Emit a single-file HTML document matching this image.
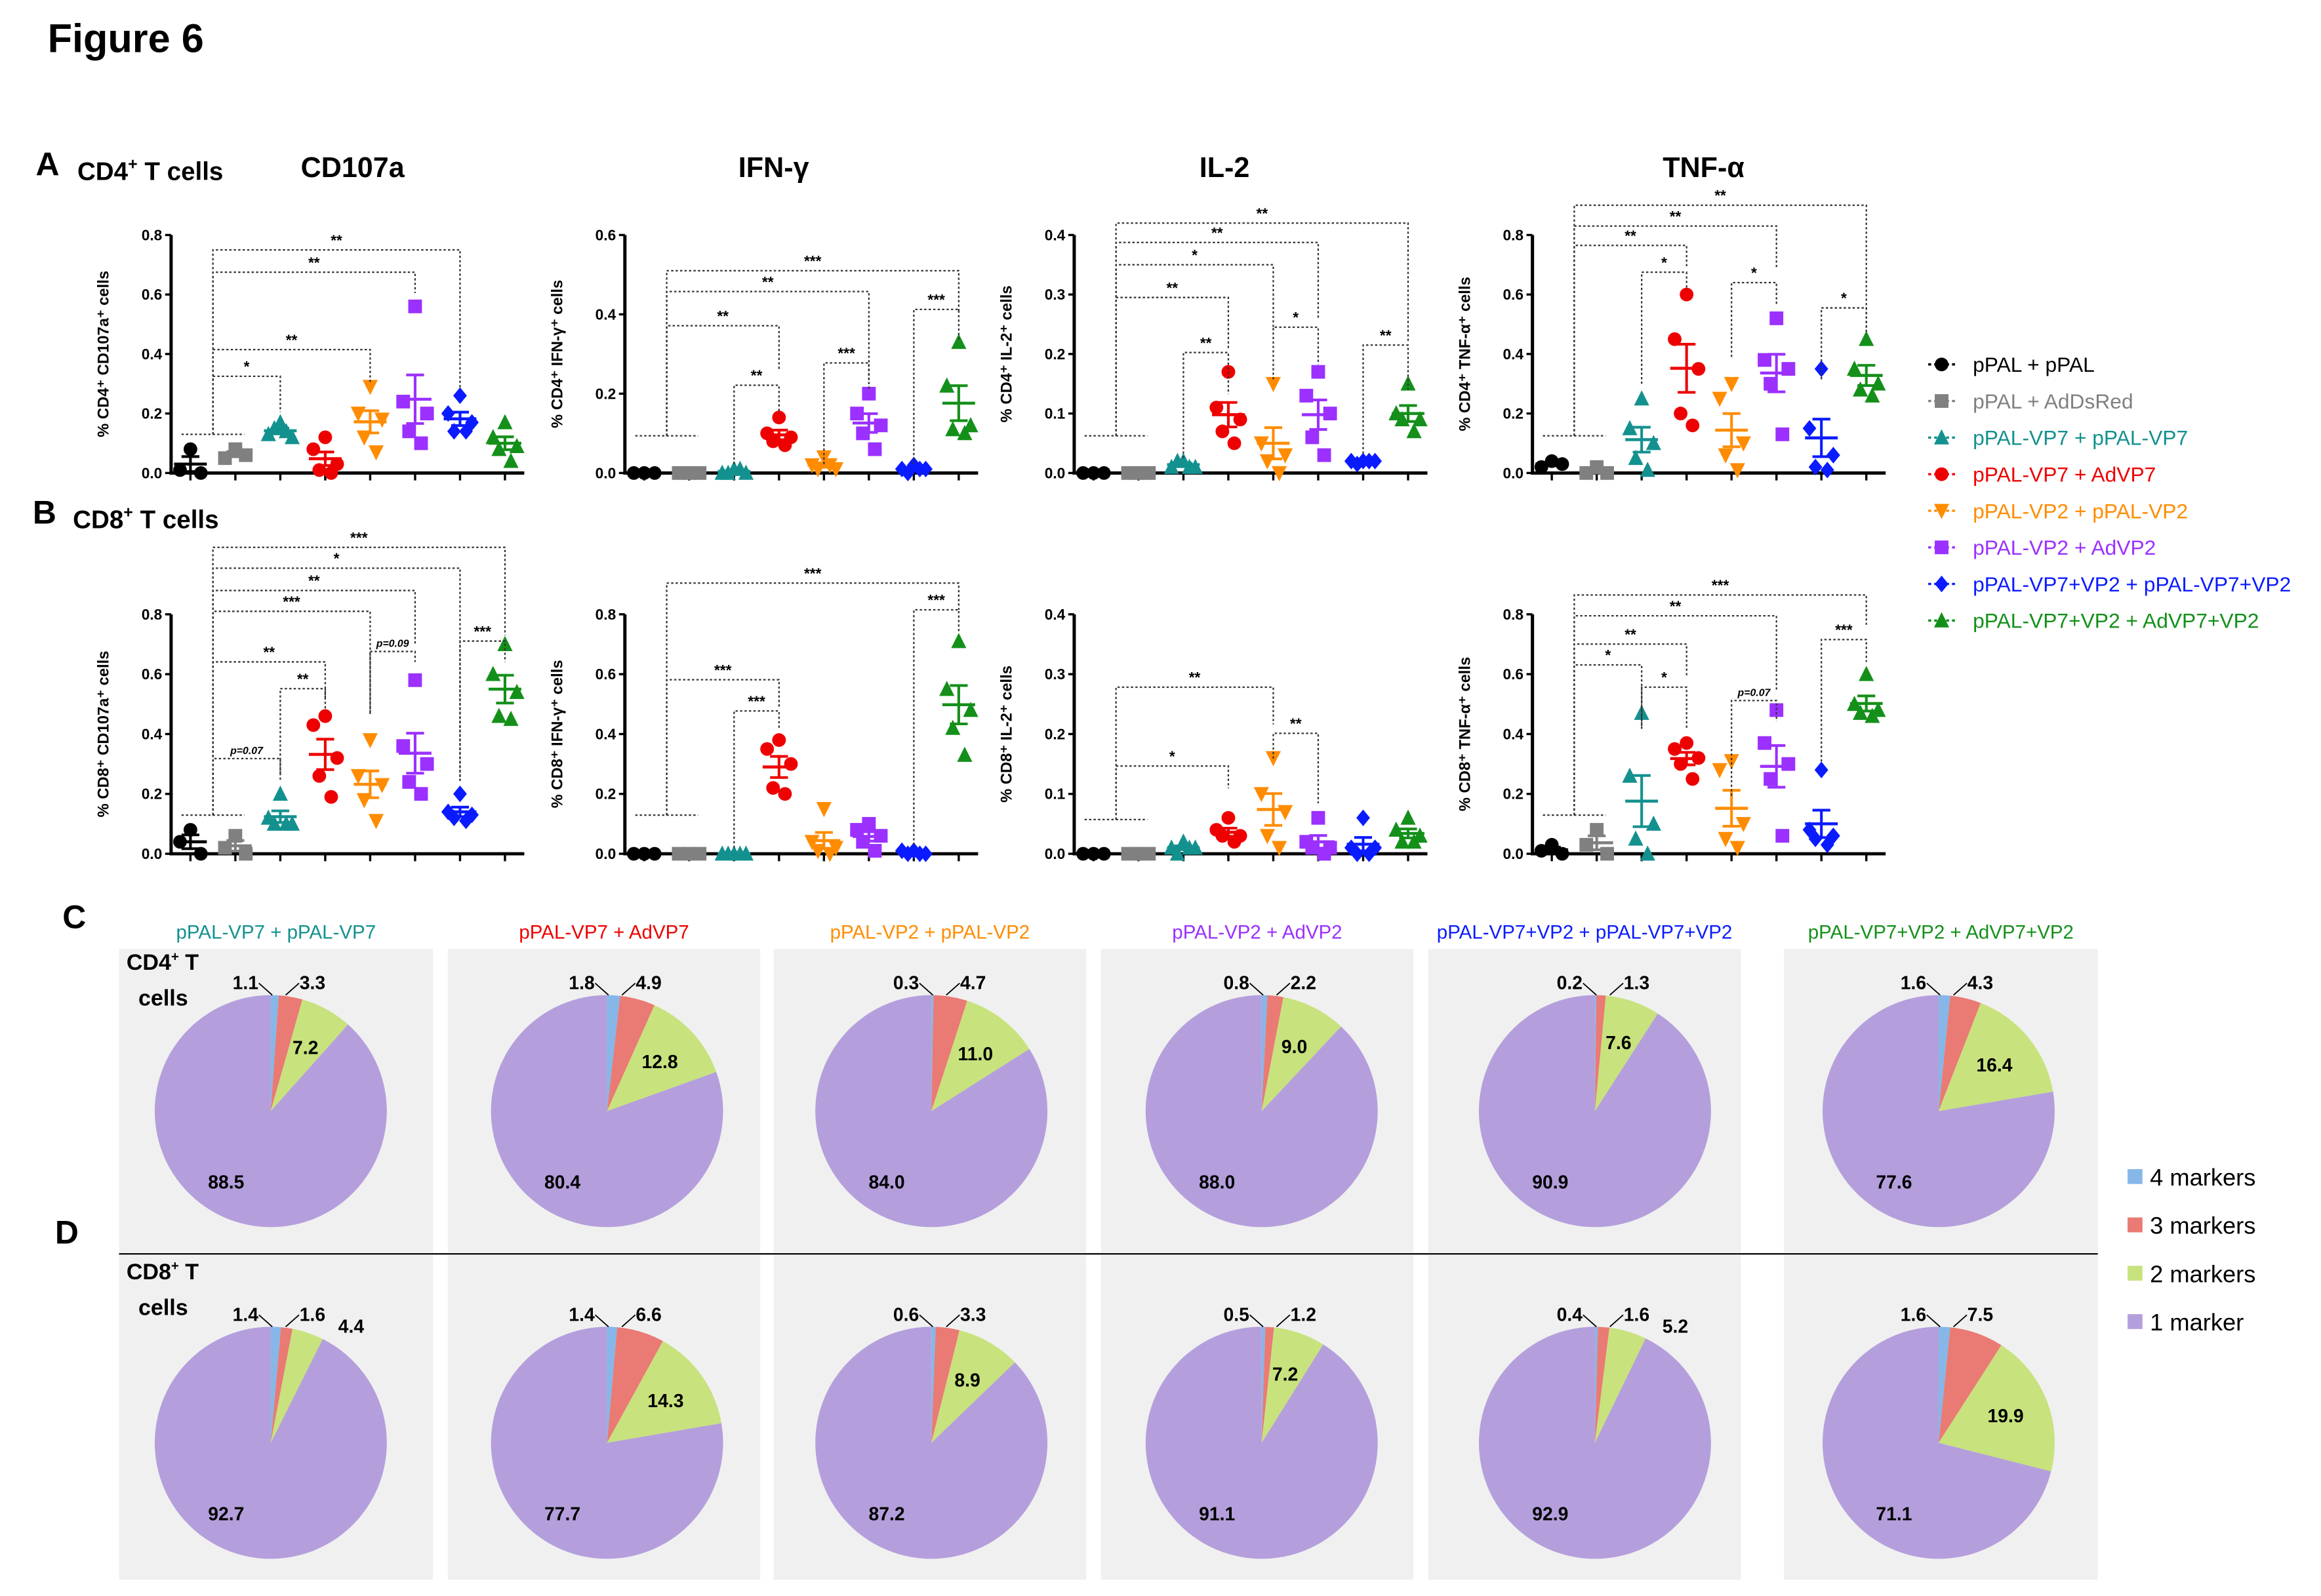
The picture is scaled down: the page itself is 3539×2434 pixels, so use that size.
<!DOCTYPE html>
<html><head><meta charset="utf-8"><style>
html,body{margin:0;padding:0;background:#fff}
svg{display:block}
text{font-family:"Liberation Sans",Arial,sans-serif}
</style></head><body>
<svg id="fig" width="3539" height="2434" viewBox="0 0 1560 1073" preserveAspectRatio="none" xmlns="http://www.w3.org/2000/svg">
<text x="32" y="35" font-size="27" font-weight="bold">Figure 6</text>
<text x="24" y="118" font-size="22" font-weight="bold">A</text>
<text x="52" y="121" font-size="17" font-weight="bold">CD4<tspan font-size="11" dy="-7">+</tspan><tspan dy="7"> T cells</tspan></text>
<text x="237" y="119" font-size="19" font-weight="bold" text-anchor="middle">CD107a</text>
<text x="520" y="119" font-size="19" font-weight="bold" text-anchor="middle">IFN-γ</text>
<text x="823" y="119" font-size="19" font-weight="bold" text-anchor="middle">IL-2</text>
<text x="1145" y="119" font-size="19" font-weight="bold" text-anchor="middle">TNF-α</text>
<text x="22" y="352" font-size="22" font-weight="bold">B</text>
<text x="49" y="355" font-size="17" font-weight="bold">CD8<tspan font-size="11" dy="-7">+</tspan><tspan dy="7"> T cells</tspan></text>
<text x="42" y="624" font-size="22" font-weight="bold">C</text>
<text x="37" y="836" font-size="22" font-weight="bold">D</text>
<g id="charts"></g>
<g id="pies"></g>
<g id="legend"></g>
</svg>
<script>
// ---- group data ----
const groupNames = ["pPAL + pPAL","pPAL + AdDsRed","pPAL-VP7 + pPAL-VP7","pPAL-VP7 + AdVP7","pPAL-VP2 + pPAL-VP2","pPAL-VP2 + AdVP2","pPAL-VP7+VP2 + pPAL-VP7+VP2","pPAL-VP7+VP2 + AdVP7+VP2"];
const a1Points = [[0.08,0.01,0.0],[0.08,0.05,0.06],[0.17,0.13,0.12,0.15,0.14],[0.12,0.08,0.03,0.01,0.0],[0.29,0.2,0.18,0.12,0.07],[0.56,0.24,0.2,0.14,0.1],[0.26,0.2,0.17,0.14,0.14],[0.17,0.12,0.09,0.08,0.04]];
const a2Points = [[0,0,0],[0,0,0],[0.01,0,0,0,0.01],[0.14,0.1,0.09,0.08,0.07],[0.04,0.02,0.01,0.01,0.02],[0.2,0.15,0.12,0.1,0.06],[0.02,0.01,0.01,0,0.01],[0.33,0.22,0.12,0.11,0.1]];
const a3Points = [[0,0,0],[0,0,0],[0.02,0.01,0.01,0.02,0.01],[0.17,0.11,0.09,0.07,0.05],[0.15,0.05,0.03,0.02,0.0],[0.17,0.13,0.1,0.06,0.03],[0.02,0.02,0.02,0.015,0.02],[0.15,0.1,0.09,0.09,0.07]];
const a4Points = [[0.04,0.02,0.03],[0.02,0,0],[0.25,0.15,0.1,0.05,0.01],[0.6,0.45,0.35,0.2,0.16],[0.3,0.25,0.1,0.06,0.01],[0.52,0.38,0.35,0.3,0.13],[0.35,0.15,0.06,0.02,0.01],[0.45,0.35,0.3,0.28,0.26]];
const b1Points = [[0.08,0.04,0.0],[0.06,0.02,0.0],[0.2,0.12,0.1,0.1,0.1],[0.46,0.43,0.32,0.26,0.19],[0.38,0.26,0.23,0.18,0.11],[0.58,0.36,0.3,0.24,0.2],[0.2,0.14,0.13,0.12,0.11],[0.7,0.6,0.54,0.46,0.45]];
const b2Points = [[0,0,0],[0,0,0],[0,0,0,0,0],[0.38,0.35,0.3,0.22,0.2],[0.15,0.04,0.02,0.01,0],[0.1,0.08,0.06,0.04,0.01],[0.01,0.01,0,0,0],[0.71,0.55,0.48,0.42,0.33]];
const b3Points = [[0,0,0],[0,0,0],[0.02,0.01,0.01,0,0.01],[0.06,0.04,0.03,0.03,0.02],[0.16,0.1,0.07,0.03,0.01],[0.06,0.02,0.01,0.01,0],[0.06,0.01,0.01,0,0],[0.06,0.04,0.03,0.02,0.02]];
const b4Points = [[0.03,0.01,0],[0.08,0.03,0],[0.47,0.26,0.1,0.05,0],[0.37,0.35,0.32,0.3,0.25],[0.31,0.28,0.1,0.05,0.02],[0.48,0.37,0.3,0.25,0.06],[0.28,0.08,0.06,0.05,0.03],[0.6,0.5,0.48,0.47,0.46]];
const tick08 = ["0.0","0.2","0.4","0.6","0.8"];
const tick06 = ["0.0","0.2","0.4","0.6"];
const tick04 = ["0.0","0.1","0.2","0.3","0.4"];
// pies: [4 markers, 3 markers, 2 markers, 1 marker]
const pieGroups = ["pPAL-VP7 + pPAL-VP7","pPAL-VP7 + AdVP7","pPAL-VP2 + pPAL-VP2","pPAL-VP2 + AdVP2","pPAL-VP7+VP2 + pPAL-VP7+VP2","pPAL-VP7+VP2 + AdVP7+VP2"];
const pieCD4 = [[1.1,3.3,7.2,88.5],[1.8,4.9,12.8,80.4],[0.3,4.7,11.0,84.0],[0.8,2.2,9.0,88.0],[0.2,1.3,7.6,90.9],[1.6,4.3,16.4,77.6]];
const pieCD8 = [[1.4,1.6,4.4,92.7],[1.4,6.6,14.3,77.7],[0.6,3.3,8.9,87.2],[0.5,1.2,7.2,91.1],[0.4,1.6,5.2,92.9],[1.6,7.5,19.9,71.1]];
const markerLabels = ["4 markers","3 markers","2 markers","1 marker"];

const colors = ["#000","#808080","#13918f","#ee0000","#ff8c00","#9b30ff","#0b1bff","#14901a"];
const shapes = ["circle","square","tri","circle","tridown","square","diamond","tri"];
const pieColors = ["#86b7e8","#ea7a74","#c8e27d","#b49fdc"];
const NS = "http://www.w3.org/2000/svg";
function el(tag, attrs, parent){const e=document.createElementNS(NS,tag);for(const k in attrs)e.setAttribute(k,attrs[k]);parent.appendChild(e);return e;}

function marker(g,shape,x,y,c){
  const s=4.6;let m;
  if(shape==="circle") m=el("circle",{cx:x,cy:y,r:s,fill:c},g);
  else if(shape==="square") m=el("rect",{x:x-s,y:y-s,width:2*s,height:2*s,fill:c},g);
  else if(shape==="tri") m=el("polygon",{points:`${x},${y-s-1} ${x-s-0.5},${y+s} ${x+s+0.5},${y+s}`,fill:c},g);
  else if(shape==="tridown") m=el("polygon",{points:`${x},${y+s+1} ${x-s-0.5},${y-s} ${x+s+0.5},${y-s}`,fill:c},g);
  else m=el("polygon",{points:`${x},${y-s-1} ${x-s},${y} ${x},${y+s+1} ${x+s},${y}`,fill:c},g);
  return m;
}

const panels = [
 {id:"a1",pts:a1Points,ax:115,y0:318,y1:158,max:0.8,ticks:tick08,title:"CD4⁺ CD107a⁺",base:292,
  br:[[0.5,6,168,"**",292,262],[0.5,5,183,"**",292,197],[0.5,4,235,"**",292,258],[0.5,2,253,"*",292,277]]},
 {id:"a2",pts:a2Points,ax:420,y0:318,y1:158,max:0.6,ticks:tick06,title:"CD4⁺ IFN-γ⁺",base:293,
  br:[[0.5,7,182,"***",293,210],[0.5,5,196,"**",293,258],[0.5,3,219,"**",293,248],[2,3,259,"**",312,278],[4,5,244,"***",312,262],[6,7,208,"***",312,228]]},
 {id:"a3",pts:a3Points,ax:722,y0:318,y1:158,max:0.4,ticks:tick04,title:"CD4⁺ IL-2⁺",base:293,
  br:[[0.5,7,150,"**",293,230],[0.5,5,163,"**",293,215],[0.5,4,178,"*",293,222],[0.5,3,200,"**",293,235],[2,3,237,"**",308,265],[4,5,220,"*",255,245],[6,7,232,"**",305,262]]},
 {id:"a4",pts:a4Points,ax:1030,y0:318,y1:158,max:0.8,ticks:tick08,title:"CD4⁺ TNF-α⁺",base:293,
  br:[[0.5,7,138,"**",293,225],[0.5,5,152,"**",293,180],[0.5,3,165,"**",293,180],[2,3,183,"*",258,195],[4,5,190,"*",240,205],[6,7,207,"*",255,222]]},
 {id:"b1",pts:b1Points,ax:115,y0:574,y1:413,max:0.8,ticks:tick08,title:"CD8⁺ CD107a⁺",base:548,
  br:[[0.5,7,368,"***",548,427],[0.5,6,382,"*",548,525],[0.5,5,397,"**",548,433],[0.5,4,411,"***",548,480],[0.5,3,445,"**",548,470],[0.5,2,510,"p=0.07",548,525],[2,3,463,"**",520,478],[4,5,438,"p=0.09",480,445],[6,7,431,"***",525,445]]},
 {id:"b2",pts:b2Points,ax:420,y0:574,y1:413,max:0.8,ticks:tick08,title:"CD8⁺ IFN-γ⁺",base:548,
  br:[[0.5,7,392,"***",548,410],[0.5,3,457,"***",548,475],[2,3,478,"***",570,490],[6,7,410,"***",568,425]]},
 {id:"b3",pts:b3Points,ax:722,y0:574,y1:413,max:0.4,ticks:tick04,title:"CD8⁺ IL-2⁺",base:551,
  br:[[0.5,4,462,"**",551,487],[0.5,3,515,"*",551,530],[4,5,493,"**",510,540]]},
 {id:"b4",pts:b4Points,ax:1030,y0:574,y1:413,max:0.8,ticks:tick08,title:"CD8⁺ TNF-α⁺",base:548,
  br:[[0.5,7,400,"***",548,420],[0.5,5,414,"**",548,465],[0.5,3,433,"**",548,455],[0.5,2,447,"*",548,490],[2,3,462,"*",490,490],[4,5,471,"p=0.07",535,485],[6,7,430,"***",512,445]]}
];
const jitter=[[0,-7,7],[0,-8,8,-4,4]];
const charts=document.getElementById("charts");
panels.forEach(p=>{
  const g=el("g",{},charts);
  
  
  const gx=i=>p.ax+13+i*30.2;
  const yv=v=>p.y0-(v/p.max)*(p.y0-p.y1);
  // axes
  const ya=el("line",{x1:p.ax,y1:p.y0+1,x2:p.ax,y2:p.y1,stroke:"#000","stroke-width":2.2},g);
  
  
  const xa=el("line",{x1:p.ax-1,y1:p.y0,x2:gx(7)+13,y2:p.y0,stroke:"#000","stroke-width":2.2},g);
  
  
  p.ticks.forEach((t,k)=>{
    const v=p.max*k/(p.ticks.length-1), y=yv(v);
    el("line",{x1:p.ax-4,y1:y,x2:p.ax,y2:y,stroke:"#000","stroke-width":1.5},g);
    const tl=el("text",{x:p.ax-6,y:y+3.5,"font-size":10,"font-weight":"bold","text-anchor":"end"},g);
    tl.textContent=t;
    
    
  });
  for(let i=0;i<8;i++) el("line",{x1:gx(i),y1:p.y0,x2:gx(i),y2:p.y0+5,stroke:"#000","stroke-width":1.5},g);
  const yt=el("text",{x:0,y:0,"font-size":10.5,"font-weight":"bold","text-anchor":"middle",transform:`translate(${p.ax-42},${(p.y0+p.y1)/2}) rotate(-90)`},g);
  yt.textContent="% "+p.title+" cells";
  
  
  // points, mean, sem
  p.pts.forEach((arr,i)=>{
    const c=colors[i], j=jitter[arr.length===3?0:1];
    arr.forEach((v,k)=>{
      const m=marker(g,shapes[i],gx(i)+j[k],yv(v),c);
      
      
    });
    const n=arr.length, mean=arr.reduce((a,b)=>a+b,0)/n;
    const sd=Math.sqrt(arr.reduce((a,b)=>a+(b-mean)*(b-mean),0)/(n-1)), sem=sd/Math.sqrt(n);
    const ml=el("line",{x1:gx(i)-11,y1:yv(mean),x2:gx(i)+11,y2:yv(mean),stroke:c,"stroke-width":2},g);
    
    
    el("line",{x1:gx(i),y1:yv(mean+sem),x2:gx(i),y2:yv(Math.max(0,mean-sem)),stroke:c,"stroke-width":1.8},g);
    el("line",{x1:gx(i)-6,y1:yv(mean+sem),x2:gx(i)+6,y2:yv(mean+sem),stroke:c,"stroke-width":1.8},g);
    el("line",{x1:gx(i)-6,y1:yv(Math.max(0,mean-sem)),x2:gx(i)+6,y2:yv(Math.max(0,mean-sem)),stroke:c,"stroke-width":1.8},g);
  });
  // baseline bracket
  const dot={stroke:"#333","stroke-width":1,"stroke-dasharray":"1.5,1.5",fill:"none"};
  el("line",Object.assign({x1:gx(0)-6,y1:p.base,x2:gx(1)+6,y2:p.base},dot),g);
  p.br.forEach(b=>{
    const x1=b[0]===0.5?(gx(0)+gx(1))/2:gx(b[0]), x2=gx(b[1]);
    const pl=el("polyline",Object.assign({points:`${x1},${b[4]} ${x1},${b[2]} ${x2},${b[2]} ${x2},${b[5]}`},dot),g);
    
    
    const t=el("text",{x:(x1+x2)/2,y:b[2]-3,"font-size":b[3].startsWith("p")?7:10,"font-weight":"bold","text-anchor":"middle","font-style":b[3].startsWith("p")?"italic":"normal"},g);
    t.textContent=b[3];
    
    
  });
});

// legend
const lg=document.getElementById("legend");
groupNames.forEach((nm,i)=>{
  const y=245+i*24.6;
  el("line",{x1:1296,y1:y,x2:1316,y2:y,stroke:colors[i],"stroke-width":1.5,"stroke-dasharray":"2,2"},lg);
  const m=marker(lg,shapes[i],1305,y,colors[i]);
  
  
  const t=el("text",{x:1326,y:y+5,"font-size":14,fill:colors[i]},lg);
  t.textContent=nm;
  
  
});

// pies
const pg=document.getElementById("pies");
const colX=[[80,291],[301,511],[520,730],[740,950],[960,1170],[1199,1410]];
[[pieCD4,638,842,747],[pieCD8,844,1062,970]].forEach(([data,top,bot,cy],row)=>{
  data.forEach((vals,ci)=>{
    const [x0,x1]=colX[ci];
    const bg=el("rect",{x:x0,y:top,width:x1-x0,height:bot-top,fill:"#f0f0f0"},pg);
    
    
    const cx=[182,408,626,848,1072,1303][ci], r=78;
    const tot=vals.reduce((a,b)=>a+b,0);
    let a=0;
    const pt=(ang,rr)=>[cx+rr*Math.sin(ang),cy-rr*Math.cos(ang)];
    const mids=[];
    vals.forEach((v,k)=>{
      const a2=a+v/tot*2*Math.PI;
      const [sx,sy]=pt(a,r),[ex,ey]=pt(a2,r);
      const path=el("path",{d:`M${cx},${cy} L${sx},${sy} A${r},${r} 0 ${a2-a>Math.PI?1:0} 1 ${ex},${ey} Z`,fill:pieColors[k]},pg);
      
      
      mids.push((a+a2)/2);
      a=a2;
    });
    // labels
    const lab=(txt,x,y)=>{const t=el("text",{x:x,y:y,"font-size":12.5,"font-weight":"bold","text-anchor":"middle"},pg);t.textContent=txt;};
    const f=v=>v.toFixed(1);
    lab(f(vals[0]),cx-17,cy-82);
    el("line",{x1:cx-8,y1:cy-86,x2:cx+1,y2:cy-78,stroke:"#000","stroke-width":0.8},pg);
    lab(f(vals[1]),cx+28,cy-82);
    el("line",{x1:cx+19,y1:cy-86,x2:cx+10,y2:cy-78,stroke:"#000","stroke-width":0.8},pg);
    if(vals[2]<6){ lab(f(vals[2]),cx+54,cy-74); }
    else { const [lx,ly]=pt(mids[2],r*0.62); lab(f(vals[2]),lx,ly+4); }
    lab(f(vals[3]),cx-30,cy+52);
    if(row===0){
      const t=el("text",{x:(x0+x1)/2,y:631,"font-size":13,"text-anchor":"middle",fill:colors[ci+2]},pg);
      t.textContent=pieGroups[ci];
      
      
    }
  });
});
el("line",{x1:80,y1:843,x2:1410,y2:843,stroke:"#000","stroke-width":1},pg);
[["CD4","652","676"],["CD8","860","884"]].forEach(([c,y1,y2])=>{
  const t=el("text",{x:85,y:y1,"font-size":15,"font-weight":"bold"},pg);
  t.innerHTML=c+'<tspan font-size="9" dy="-6">+</tspan><tspan dy="6"> T</tspan>';
  
  
  const t2=el("text",{x:93,y:y2,"font-size":15,"font-weight":"bold"},pg);
  t2.textContent="cells";
});
markerLabels.forEach((m,k)=>{
  const y=795+k*32.5;
  el("rect",{x:1430,y:y-9,width:10,height:10,fill:pieColors[k]},pg);
  const t=el("text",{x:1445,y:y+2,"font-size":16},pg);
  t.textContent=m;
  
  
});
</script>
</body></html>
